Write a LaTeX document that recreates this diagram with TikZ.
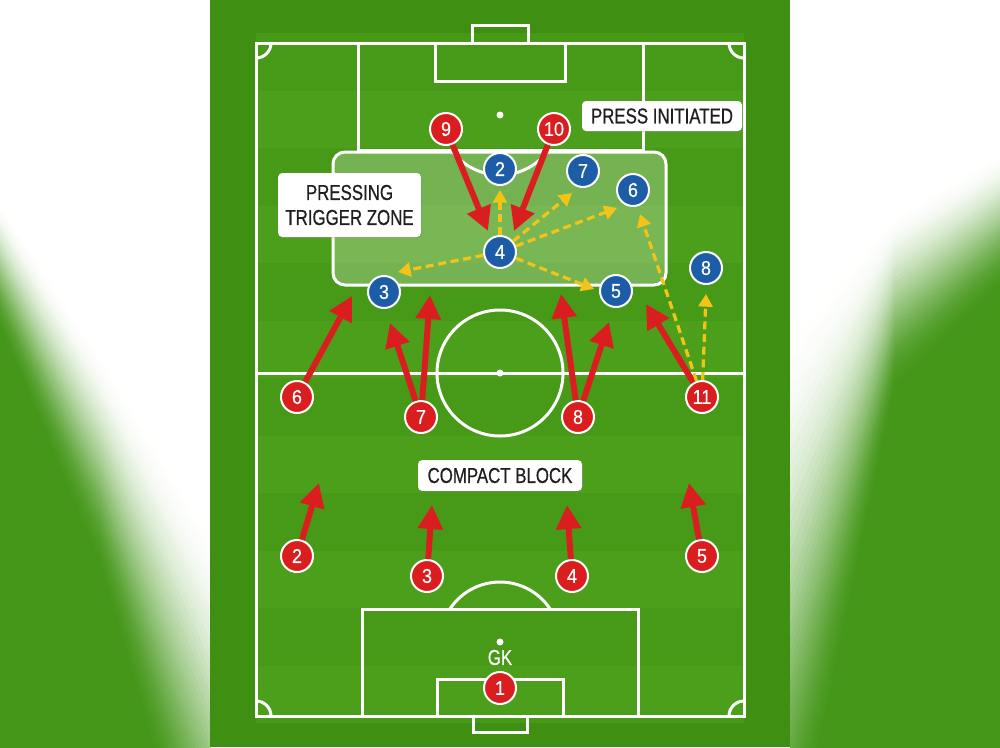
\documentclass[tikz,border=0pt]{standalone}
\usepackage{fontspec}
\newfontfamily\lbl[FakeStretch=0.78,FakeBold=0.6]{Liberation Sans}
\newfontfamily\numfont[FakeStretch=0.9,FakeBold=0.4]{Liberation Sans}
\usetikzlibrary{arrows.meta,shadows}
\definecolor{bggreen}{HTML}{45971A}
\definecolor{panelg}{HTML}{3F8F12}
\definecolor{stripeA}{HTML}{479918}
\definecolor{stripeB}{HTML}{4C9F1A}
\definecolor{pred}{HTML}{DA1E1F}
\definecolor{pblue}{HTML}{1D5CA6}
\definecolor{pyel}{HTML}{F3C417}
\begin{document}
\begin{tikzpicture}[x=0.75pt,y=-0.75pt,
  pline/.style={draw=white,line width=2.25pt},
  rp/.style={circle,fill=pred,draw=white,line width=1.5pt,minimum size=24pt,inner sep=0pt,text=white,font=\numfont\fontsize{15}{16}\selectfont,drop shadow={opacity=0.3,shadow xshift=0.6pt,shadow yshift=-0.8pt}},
  bp/.style={rp,fill=pblue},
  lab/.style={fill=white,rounded corners=3pt,text=black!88,font=\lbl\fontsize{16.2}{18.75}\selectfont,align=center,inner sep=0pt,drop shadow={opacity=0.3,shadow xshift=0.8pt,shadow yshift=-0.8pt}},
  rarr/.style={draw=pred,line width=4.5pt,-{Triangle[length=18pt,width=18pt]}},
  yarr/.style={draw=pyel,line width=2.4pt,dash pattern=on 6pt off 3.5pt,-{Triangle[length=9.5pt,width=10.5pt]}}
]
\useasboundingbox (0,0) rectangle (1000,747);
\fill[white] (0,0) rectangle (1000,747);
% blurred background, left
\foreach \i in {0,...,40}{
  \pgfmathsetmacro\t{\i/40}
  \pgfmathsetmacro\p{100*(3*\t*\t-2*\t*\t*\t)}
  \pgfmathsetmacro\ya{200+130*\t}
  \pgfmathsetmacro\yb{350+220*\t}
  \pgfmathsetmacro\yc{520+430*\t}
  \fill[bggreen!\p!white] (0,\ya) -- (100,\yb) -- (210,\yc) -- (210,1000) -- (0,1000) -- cycle;
}
% blurred background, right
\foreach \i in {0,...,40}{
  \pgfmathsetmacro\t{\i/40}
  \pgfmathsetmacro\p{100*(3*\t*\t-2*\t*\t*\t)}
  \pgfmathsetmacro\ya{150+140*\t}
  \pgfmathsetmacro\yb{210+180*\t}
  \pgfmathsetmacro\yc{320+580*\t}
  \fill[bggreen!\p!white] (1000,\ya) -- (895,\yb) -- (790,\yc) -- (790,1000) -- (1000,1000) -- cycle;
}
% pitch panel
\fill[panelg] (210,0) rectangle (790,747);
\foreach \k in {0,...,12}{
  \pgfmathtruncatemacro\m{mod(\k,2)}
  \ifnum\m=0 \def\sc{stripeA}\else\def\sc{stripeB}\fi
  \fill[\sc] (256,{33+57.5*\k}) rectangle (744,{min(716,33+57.5*(\k+1))});
}
% pitch lines
\draw[pline] (256,43) rectangle (744,716);
\draw[pline] (256,373) -- (744,373);
\draw[pline] (500,373) circle (63);
\fill[white] (500,373) circle (3.5);
\draw[pline] (358,43) rectangle (643,150);
\draw[pline] (362,609) rectangle (638,716);
\draw[pline] (435,43) rectangle (565,81);
\draw[pline] (437,679) rectangle (563,716);
\draw[pline] (472,43) -- (472,25) -- (528,25) -- (528,43);
\draw[pline] (473,716) -- (473,732) -- (527,732) -- (527,716);
\fill[white] (500,115) circle (3.5);
\fill[white] (500,642) circle (3.5);
\draw[pline] (500,115) ++(35.7:60) arc[start angle=35.7,end angle=144.3,radius=60];
\draw[pline] (500,642) ++(-33.4:60) arc[start angle=-33.4,end angle=-146.6,radius=60];
\draw[pline] (256,43) ++(0:15) arc[start angle=0,end angle=90,radius=15];
\draw[pline] (744,43) ++(90:15) arc[start angle=90,end angle=180,radius=15];
\draw[pline] (256,716) ++(-90:15) arc[start angle=-90,end angle=0,radius=15];
\draw[pline] (744,716) ++(180:15) arc[start angle=180,end angle=270,radius=15];
% pressing zone
\draw[draw=white,line width=2.25pt,fill=white,fill opacity=0.25,rounded corners=9pt] (333,152) rectangle (666,285);
% labels
\node[lab,minimum width=120pt,minimum height=22.5pt] (press) at (662,116) {PRESS INITIATED};
\node[lab,minimum width=107pt,minimum height=48pt] (zone) at (349.5,205) {PRESSING\\TRIGGER ZONE};
\node[lab,minimum width=123pt,minimum height=23pt] (compact) at (500,475.5) {COMPACT BLOCK};
\node[text=white,font=\lbl\fontsize{16.2}{18}\selectfont] (gk) at (500,657.5) {GK};
% blue players
\node[bp] (b2) at (500,169) {2};
\node[bp] (b7) at (583,171) {7};
\node[bp] (b6) at (633,190) {6};
\node[bp] (b4) at (500,252) {4};
\node[bp] (b3) at (384,292) {3};
\node[bp] (b5) at (616,291) {5};
\node[bp] (b8) at (706,268) {8};
% red players
\node[rp] (r9) at (446,129) {9};
\node[rp] (r10) at (554,129) {10};
\node[rp] (r6) at (297,397) {6};
\node[rp] (r7) at (421,417) {7};
\node[rp] (r8) at (578,417) {8};
\node[rp] (r11) at (702,397) {11};
\node[rp] (r2) at (297,556) {2};
\node[rp] (r3) at (427,576) {3};
\node[rp] (r4) at (572,576) {4};
\node[rp] (r5) at (702,556) {5};
\node[rp] (r1) at (500,688) {1};
% arrow targets
\coordinate (t9) at (488,231);
\coordinate (t10) at (514,231);
\coordinate (t6) at (352,296);
\coordinate (t7a) at (390,323);
\coordinate (t7b) at (430,295);
\coordinate (t8a) at (561,294);
\coordinate (t8b) at (609,322);
\coordinate (t11) at (646,304);
\coordinate (t2) at (319,483);
\coordinate (t3) at (432,505);
\coordinate (t4) at (567,505);
\coordinate (t5) at (689,483);
\coordinate (y1) at (500,190);
\coordinate (y2) at (572,193);
\coordinate (y3) at (617,208);
\coordinate (y4) at (398,272);
\coordinate (y5) at (594,289);
\coordinate (y6) at (640,214);
\coordinate (y7) at (706,294);
% red arrows
\draw[rarr] (r9) -- (t9);
\draw[rarr] (r10) -- (t10);
\draw[rarr] (r6) -- (t6);
\draw[rarr] (r7) -- (t7a);
\draw[rarr] (r7) -- (t7b);
\draw[rarr] (r8) -- (t8a);
\draw[rarr] (r8) -- (t8b);
\draw[rarr] (r11) -- (t11);
\draw[rarr] (r2) -- (t2);
\draw[rarr] (r3) -- (t3);
\draw[rarr] (r4) -- (t4);
\draw[rarr] (r5) -- (t5);
% yellow arrows
\draw[yarr] (b4) -- (y1);
\draw[yarr] (b4) -- (y2);
\draw[yarr] (b4) -- (y3);
\draw[yarr] (b4) -- (y4);
\draw[yarr] (b4) -- (y5);
\draw[yarr] (r11) -- (y6);
\draw[yarr] (r11) -- (y7);
\end{tikzpicture}
\end{document}
